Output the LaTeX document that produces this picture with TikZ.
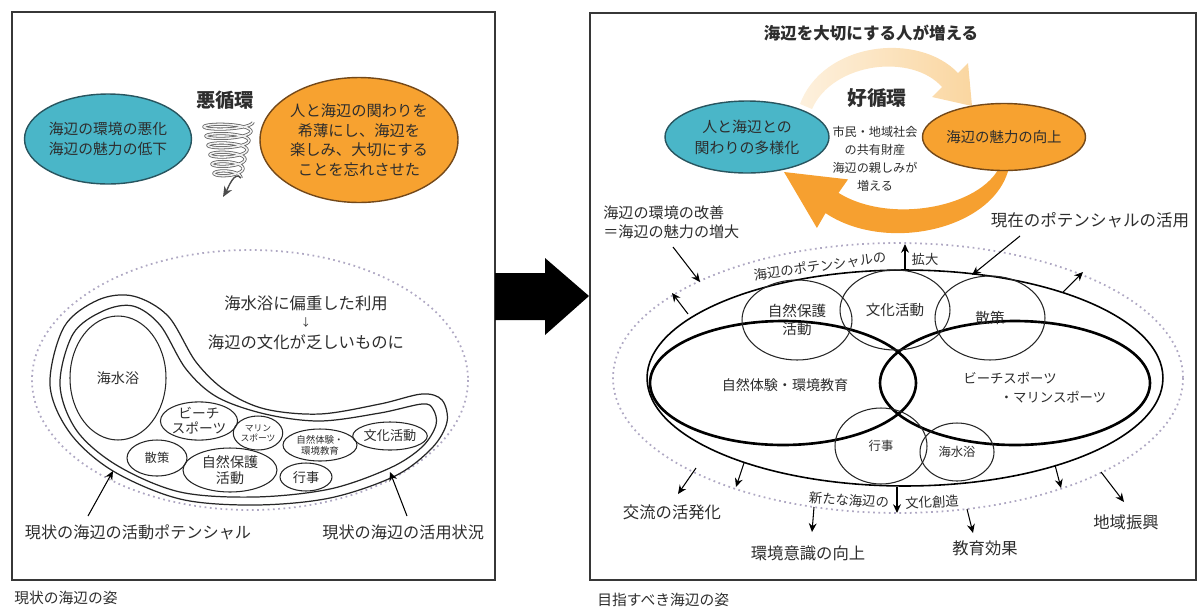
\documentclass[tikz,border=0pt]{standalone}
\usepackage{fontspec}
\setmainfont{Noto Sans CJK JP}
\usetikzlibrary{arrows.meta,shapes.geometric}
\definecolor{teal1}{RGB}{74,182,200}
\definecolor{tealline}{RGB}{40,85,95}
\definecolor{orange1}{RGB}{247,162,48}
\definecolor{orangeline}{RGB}{115,72,25}
\definecolor{txt}{RGB}{45,45,45}
\definecolor{dotc}{RGB}{175,168,195}
\definecolor{palearrow}{RGB}{250,214,160}
\definecolor{strongarrow}{RGB}{246,160,48}
\definecolor{framec}{RGB}{55,55,55}
\newcommand{\fz}[2]{\fontsize{#1pt}{#2pt}\selectfont}
\begin{document}
\begin{tikzpicture}[x=0.02cm,y=-0.02cm,
  every node/.style={text=txt, inner sep=0pt},
  ell/.style={draw=black!85, line width=0.6pt, ellipse, inner sep=0pt, align=center},
  lab/.style={align=center},
  arr/.style={draw=black, line width=0.6pt, -{Stealth[length=5pt,width=4.5pt]}},
  frame/.style={draw=framec, line width=1.3pt},
  dotline/.style={draw=dotc, line width=1pt, dotted},
  tad/.style={draw=black!85, line width=0.7pt},
]
\useasboundingbox (0,0) rectangle (1200,609);
% ---------------- frames ----------------
\draw[frame] (12,12) rectangle (495,580);
\draw[frame] (590,13) rectangle (1196,580);
\node[anchor=west, font=\fz{8.4}{10}] (capL) at (14,598) {現状の海辺の姿};
\node[anchor=west, font=\fz{8.4}{10}] (capR) at (597,600) {目指すべき海辺の姿};
% big arrow
\fill[black] (495,273) -- (545,273) -- (545,258) -- (589,296) -- (545,335) -- (545,320) -- (495,320) -- cycle;

% ---------------- left panel ----------------
\node[ell, fill=teal1, draw=tealline, line width=0.8pt, minimum width=3.2cm, minimum height=1.8cm, font=\fz{8.4}{11.3}] (blueL) at (108,139) {海辺の環境の悪化\\海辺の魅力の低下};
\node[font=\bfseries\fz{11}{12}] (akuL) at (225,100) {悪循環};
\draw[draw=gray!75!black, double=gray!12, double distance=0.9pt, line width=0.45pt]
  plot[domain=0:6, samples=400, smooth] ({228+(25-2*\x)*cos(360*\x)}, {122+9.33*\x+4.5*sin(360*\x)});
\coordinate (spend) at (241,178);
\coordinate (sptip) at (223,197);
\draw[draw=gray!60!black, line width=0.8pt, -{Stealth[length=6pt,width=5pt]}] (spend) to[out=130,in=60] (sptip);
\node[ell, fill=orange1, draw=orangeline, line width=0.8pt, minimum width=3.96cm, minimum height=2.5cm, font=\fz{8.7}{11.2}] (orangeL) at (359,140) {人と海辺の関わりを\\希薄にし、海辺を\\楽しみ、大切にする\\ことを忘れさせた};

% dotted potential
\draw[dotline] (250,380) ellipse [x radius=218, y radius=130];
% outer tadpole (potential)
\draw[tad] plot[smooth cycle, tension=0.55] coordinates {(50,385) (64,327) (98,300) (133,296) (168,316) (196,362) (226,391) (265,409) (320,414) (380,404) (422,394) (442,400) (447,422) (432,448) (395,476) (330,498) (255,505) (180,499) (113,471) (70,433)};
% inner tadpole (utilisation)
\draw[tad] plot[smooth cycle, tension=0.55] coordinates {(60,385) (73,334) (103,311) (133,306) (160,325) (186,369) (217,397) (265,414) (320,421) (380,413) (422,404) (433,409) (436,425) (422,447) (390,468) (330,489) (255,497) (180,492) (118,466) (77,431)};

\node[ell, minimum width=1.92cm, minimum height=2.48cm, font=\fz{8}{9}] (kaisuiL) at (118,378) {海水浴};
\node[ell, minimum width=1.52cm, minimum height=0.76cm, font=\fz{7.8}{8.6}] (beachL) at (199,421) {ビーチ\\スポーツ};
\node[ell, minimum width=0.96cm, minimum height=0.68cm, font=\fz{5}{5.8}] (marineL) at (258,433) {マリン\\スポーツ};
\node[ell, minimum width=1.48cm, minimum height=0.64cm, font=\fz{5.4}{6.3}] (shizenL) at (320,445) {自然体験・\\環境教育};
\node[ell, minimum width=1.44cm, minimum height=0.56cm, font=\fz{7.5}{8}] (bunkaL) at (390,436) {文化活動};
\node[ell, minimum width=1.2cm, minimum height=0.72cm, font=\fz{7}{8}] (sansakuL) at (157,458) {散策};
\node[ell, minimum width=1.88cm, minimum height=0.88cm, font=\fz{8}{9.5}] (hogoL) at (230,470) {自然保護\\活動};
\node[ell, minimum width=1.04cm, minimum height=0.56cm, font=\fz{7.5}{8}] (gyojiL) at (306,477) {行事};

\node[font=\fz{9.3}{10}] (henL) at (306,303) {海水浴に偏重した利用};
\node[font=\fz{6}{6}] (downL) at (306,323) {↓};
\node[font=\fz{9.3}{10}] (bunkL) at (306,342) {海辺の文化が乏しいものに};

\node[font=\fz{9.2}{10}] (potL) at (138,532) {現状の海辺の活動ポテンシャル};
\node[anchor=west, font=\fz{9.2}{10}] (useL) at (322,532) {現状の海辺の活用状況};
\coordinate (potS) at (88,516);
\coordinate (potT) at (113,471);
\coordinate (useS) at (407,516);
\coordinate (useT) at (390,472);
\draw[arr] (potS) -- (potT);
\draw[arr] (useS) -- (useT);

% ---------------- right panel ----------------
\node[font=\bfseries\fz{9.4}{10}] (titleR) at (871,33) {海辺を大切にする人が増える};
% pale cycle arrow (top)
\shade[left color=palearrow!35!white, right color=palearrow]
  (800,104) .. controls (823,42) and (918,31) .. (958,73) -- (968,63) -- (972,106) -- (932,97) -- (942,87) .. controls (912,53) and (833,62) .. (812,109) -- cycle;
% strong cycle arrow (bottom)
\fill[strongarrow] (1006,157) -- (1010,162) .. controls (1001,228) and (888,255) .. (825.5,213.1) -- (816.9,228) -- (784,172) -- (848,179.4) -- (838.5,192.9) .. controls (892,226) and (988,206) .. (1002,161) -- cycle;

\node[font=\bfseries\fz{11.3}{12}] (kouR) at (877,98) {好循環};
\node[lab, font=\fz{6.9}{10.3}] (centerR) at (875,159) {市民・地域社会\\の共有財産\\海辺の親しみが\\増える};
\node[ell, fill=teal1, draw=tealline, line width=0.8pt, minimum width=3.28cm, minimum height=1.44cm, font=\fz{8.5}{12}] (blueR) at (747,137) {人と海辺との\\関わりの多様化};
\node[ell, fill=orange1, draw=orangeline, line width=0.8pt, minimum width=3.16cm, minimum height=1.34cm, font=\fz{8.2}{9}] (orangeR) at (1004,137) {海辺の魅力の向上};

\node[anchor=west, align=left, font=\fz{8.6}{10.8}] (kaizenR) at (603,222) {海辺の環境の改善\\＝海辺の魅力の増大};
\node[font=\fz{9.4}{10}] (katsuyoR) at (1090,220) {現在のポテンシャルの活用};

% ellipses
\draw[dotline] (898,378) ellipse [x radius=285, y radius=135];
\node[draw=black, line width=0.9pt, ellipse, minimum width=10.32cm, minimum height=4.32cm] (outerR) at (905,378) {};
\node[draw=black, line width=1.5pt, ellipse, minimum width=5.32cm, minimum height=2.48cm] (leftbig) at (783,383) {};
\node[draw=black, line width=1.5pt, ellipse, minimum width=5.4cm, minimum height=2.48cm] (rightbig) at (1015,383) {};
\node[ell, minimum width=2.2cm, minimum height=1.6cm, font=\fz{8.3}{10.5}] (hogoR) at (797,320) {自然保護\\活動};
\node[ell, minimum width=2.2cm, minimum height=1.6cm, font=\fz{8.3}{9}] (bunkaR) at (895,310) {文化活動};
\node[ell, minimum width=2.2cm, minimum height=1.68cm, font=\fz{8.3}{9}] (sansakuR) at (990,318) {散策};
\node[ell, minimum width=1.84cm, minimum height=1.52cm, font=\fz{7}{8}] (gyojiR) at (881,446) {行事};
\node[ell, minimum width=1.48cm, minimum height=1.16cm, font=\fz{7}{8}] (kaisuiR) at (957,452) {海水浴};
\node[font=\fz{8}{9}] (shizenR) at (785,385) {自然体験・環境教育};
\node[font=\fz{7.6}{8}] (beachR) at (1010,378) {ビーチスポーツ};
\node[font=\fz{7.6}{8}] (marineR) at (1053,397) {・マリンスポーツ};

\node[font=\fz{7.6}{8}, rotate=8.5] (potenR) at (820,266) {海辺のポテンシャルの};
\node[font=\fz{7.6}{8}] (kakudaiR) at (925,259) {拡大};
\node[font=\fz{7.6}{8}, rotate=-4] (aratanaR) at (849,500) {新たな海辺の};
\node[font=\fz{7.6}{8}, rotate=3] (souzouR) at (932,502) {文化創造};

\node[font=\fz{9.3}{10}] (kouryuR) at (672,512) {交流の活発化};
\node[font=\fz{9.3}{10}] (ishikiR) at (808,553) {環境意識の向上};
\node[font=\fz{9.3}{10}] (kyoikuR) at (985,548) {教育効果};
\node[font=\fz{9.3}{10}] (shinkoR) at (1126,522) {地域振興};

% arrow end points
\coordinate (kzS) at (673,247);  \coordinate (kzT) at (700,282);
\coordinate (kyS) at (1020,236); \coordinate (kyT) at (972,275);
\coordinate (upS) at (905,270);  \coordinate (upT) at (905,244);
\coordinate (ulS) at (688,314);  \coordinate (ulT) at (672,293);
\coordinate (urS) at (1063,292); \coordinate (urT) at (1083,272);
\coordinate (b1S) at (696,468);  \coordinate (b1T) at (678,494);
\coordinate (b2S) at (744,463);  \coordinate (b2T) at (736,487);
\coordinate (b3S) at (814,507);  \coordinate (b3T) at (812,532);
\coordinate (b4S) at (897,487);  \coordinate (b4T) at (897,513);
\coordinate (b5S) at (967,509);  \coordinate (b5T) at (973,533);
\coordinate (b6S) at (1055,465); \coordinate (b6T) at (1061,488);
\coordinate (b7S) at (1101,472); \coordinate (b7T) at (1124,502);
\foreach \n in {kz,ky,up,ul,ur,b1,b2,b3,b4,b5,b6,b7} \draw[arr] (\n S) -- (\n T);
\end{tikzpicture}
\end{document}
